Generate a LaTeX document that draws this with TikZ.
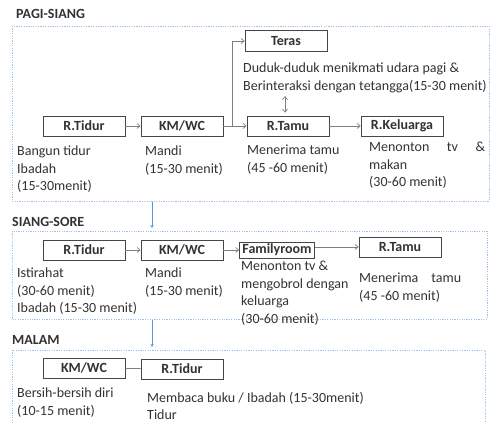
\documentclass[tikz,border=0pt]{standalone}
\usepackage{fontspec}
\setmainfont{Carlito}
\usetikzlibrary{arrows.meta}
\definecolor{boxgray}{RGB}{70,70,70}
\definecolor{linegray}{RGB}{128,128,128}
\definecolor{frameblue}{RGB}{91,155,213}
\definecolor{textgray}{RGB}{50,50,50}

\begin{document}
\begin{tikzpicture}[x=1pt,y=-1pt,>={Straight Barb[length=3pt,width=5pt]},
  room/.style={draw=boxgray,line width=0.8pt,minimum width=82pt,minimum height=20pt,inner xsep=2pt,inner ysep=0pt,text=textgray,font=\fontsize{14}{16}\selectfont\bfseries},
  note/.style={anchor=north west,inner sep=0pt,align=left,text=textgray,font=\fontsize{14}{17.5}\selectfont},
  sectitle/.style={anchor=west,inner sep=0pt,text=textgray,font=\fontsize{14}{16}\selectfont\bfseries},
  sectframe/.style={draw=frameblue!60,dash pattern=on 1.2pt off 1.2pt,line width=0.8pt},
  link/.style={draw=linegray,line width=0.7pt},
  down/.style={draw=frameblue,line width=0.7pt,-{Stealth[length=3pt,width=3.5pt]}}]
  \useasboundingbox (0,0) rectangle (493,423);
  % pagi - siang
  \node[sectitle] (titleA) at (16,14) {PAGI-SIANG};
  \draw[sectframe] (12,26) rectangle (489,201);
  \node[room] (tidurA) at (84,126) {R.Tidur};
  \node[room] (kmA) at (182,126) {KM/WC};
  \node[room] (tamuA) at (288,126) {R.Tamu};
  \node[room] (keluarga) at (402,126) {R.Keluarga};
  \node[room,minimum height=21pt] (teras) at (286,41) {Teras};
  \node[note] (noteTidurA) at (17,146) {Bangun tidur\\Ibadah\\(15-30menit)};
  \node[note] (noteKmA) at (145,146) {Mandi\\(15-30 menit)};
  \node[note] (noteTamuA) at (247,145) {Menerima tamu\\(45 -60 menit)};
  \node[note] (noteKeluarga) at (369,142) {\makebox[116pt][s]{Menonton tv \&}\\makan\\(30-60 menit)};
  \node[note] (noteTeras) at (243,63) {Duduk-duduk menikmati udara pagi \&\\Berinteraksi dengan tetangga(15-30 menit)};
  \draw[link,->] (tidurA) -- (kmA);
  \draw[link,->] (kmA) -- (tamuA);
  \draw[link,->] (kmA.east) -- ++(9,0) |- (teras.west);
  \draw[link,->] (tamuA) -- (keluarga);
  \draw[link,<->,shorten <=3pt,shorten >=3pt] ([xshift=-3pt]tamuA.north) -- ([xshift=-3pt]tamuA.north |- noteTeras.south);
  % siang - sore
  \coordinate (outA) at (152,202);
  \coordinate (inB) at (152,228);
  \draw[down] (outA) -- (inB);
  \node[sectitle] (titleB) at (12,222) {SIANG-SORE};
  \draw[sectframe] (12,231) rectangle (487,319);
  \node[room] (tidurB) at (84,250) {R.Tidur};
  \node[room] (kmB) at (182,250) {KM/WC};
  \node[room,minimum width=75pt,minimum height=16pt] (family) at (277,250) {Familyroom};
  \node[room] (tamuB) at (400,247) {R.Tamu};
  \node[note] (noteTidurB) at (17,268) {Istirahat\\(30-60 menit)\\Ibadah (15-30 menit)};
  \node[note] (noteKmB) at (145,268) {Mandi\\(15-30 menit)};
  \node[note] (noteFamily) at (241,261) {Menonton tv \&\\mengobrol dengan\\keluarga\\(30-60 menit)};
  \node[note] (noteTamuB) at (359,273) {\makebox[102pt][s]{Menerima tamu}\\(45 -60 menit)};
  \draw[link,->] (tidurB) -- (kmB);
  \draw[link,->] (kmB) -- (family);
  \draw[link,->] (family.east |- tamuB.west) -- (tamuB.west);
  % malam
  \coordinate (outB) at (152,320);
  \coordinate (inC) at (152,347);
  \draw[down] (outB) -- (inC);
  \node[sectitle] (titleC) at (12,340) {MALAM};
  \draw[sectframe] (12,440) |- (485,350) -- (485,440);
  \node[room] (kmC) at (84,368) {KM/WC};
  \node[room] (tidurC) at (182,369) {R.Tidur};
  \node[note] (noteKmC) at (17,388) {Bersih-bersih diri\\(10-15 menit)};
  \node[note] (noteTidurC) at (147,392) {Membaca buku / Ibadah (15-30menit)\\Tidur};
  \draw[link] (kmC) -- (tidurC);
\end{tikzpicture}
\end{document}
